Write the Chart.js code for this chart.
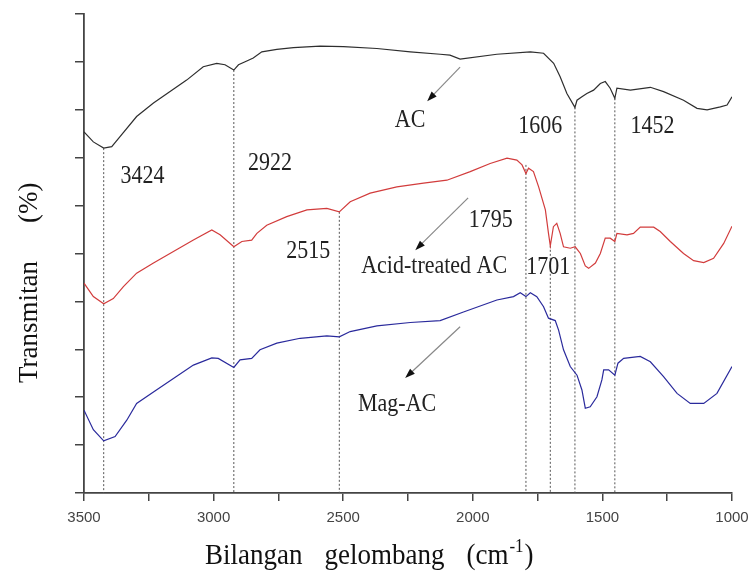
<!DOCTYPE html>
<html><head><meta charset="utf-8">
<script src="https://cdn.jsdelivr.net/npm/chart.js@4/dist/chart.umd.min.js"></script>
<style>html,body{margin:0;padding:0;background:#fff;}</style>
</head><body>
<canvas id="c" width="753" height="574"></canvas>
<script>
// ---- data (wavenumber cm-1, transmittance in arbitrary % units) ----
const wnAC = [3500,3464,3424,3393,3361,3297,3232,3168,3104,3040,2988,2956,2922,2904,2872,2847,2814,2756,2692,2589,2499,2370,2241,2126,2088,2049,1907,1778,1727,1688,1663,1637,1606,1598,1579,1560,1534,1508,1489,1470,1452,1444,1392,1315,1264,1187,1135,1096,1045,1019,1000];
const tAC  = [75.4,73.3,72.0,72.3,74.4,78.6,81.4,83.8,86.2,89.0,89.7,89.4,88.3,89.4,90.2,90.8,92.1,92.6,93.0,93.3,93.2,92.8,92.1,91.6,91.4,90.6,91.6,92.1,91.8,89.7,86.9,83.4,80.5,82.0,82.7,83.4,84.1,85.5,85.9,84.5,82.4,84.5,84.1,84.7,83.8,82.0,80.3,80.0,80.6,81.0,82.7];

const wnAcid = [3500,3464,3424,3387,3348,3297,3232,3155,3078,3007,2975,2922,2891,2853,2833,2795,2718,2640,2563,2515,2473,2396,2293,2190,2100,2010,1933,1868,1830,1810,1795,1785,1766,1746,1720,1708,1701,1689,1676,1663,1650,1624,1605,1585,1566,1553,1527,1508,1489,1470,1452,1444,1405,1380,1354,1302,1277,1238,1187,1148,1109,1071,1032,1000];
const tAcid  = [43.8,41.0,39.5,40.6,43.1,45.9,48.0,50.4,52.8,54.9,53.9,51.4,52.5,52.8,54.2,55.9,57.7,59.1,59.4,58.7,60.8,62.6,63.9,64.7,65.3,67.1,68.8,69.9,69.5,68.5,66.7,67.8,67.1,63.9,59.1,54.2,51.6,55.6,56.3,54.2,51.4,51.1,51.4,50.0,47.4,46.9,48.0,50.0,53.2,53.2,52.5,54.2,53.9,54.2,55.5,55.5,54.6,52.5,50.0,48.5,48.1,49.0,52.1,55.7];

const wnMag = [3500,3464,3424,3380,3335,3297,3232,3155,3078,3007,2982,2922,2898,2853,2821,2756,2666,2563,2515,2473,2370,2241,2126,2036,1907,1843,1817,1795,1778,1753,1727,1708,1682,1669,1650,1624,1598,1579,1566,1547,1521,1502,1495,1476,1452,1440,1418,1354,1315,1264,1212,1161,1109,1058,1000];
const tMag  = [17.3,13.2,10.9,11.8,15.2,18.7,21.1,23.9,26.7,28.2,28.1,26.2,27.8,28.1,29.9,31.3,32.3,32.8,32.6,33.7,34.9,35.6,36.0,37.8,40.3,41.0,41.8,41.0,41.8,41.0,38.9,36.5,36.0,34.0,29.9,26.4,24.6,21.5,17.7,18.0,20.1,23.6,25.7,25.7,24.6,27.1,28.1,28.5,27.4,24.3,20.8,18.7,18.7,20.8,26.4];

const peakWn  = [3424,2922,2515,1795,1701,1606,1452];
const peakTop = [72.0,88.3,58.7,68.5,51.6,80.5,82.4];

const xTickLabels = [3500,3000,2500,2000,1500,1000];

const noteText = ['3424','2922','AC','1606','1452','1795','Acid-treated AC','2515','1701','Mag-AC'];
const noteWn   = [3274,2782,2242,1740,1307,1931,2149,2635,1709,2292];
const noteT    = [66.1,68.9,77.7,76.5,76.5,57.0,47.4,50.5,47.2,18.6];

const arrowFromWn = [2049,2018,2049];
const arrowFromT  = [88.9,61.6,34.7];
const arrowToWn   = [2176,2222,2261];
const arrowToT    = [81.8,50.7,24.0];

const xTitleWords = ['Bilangan', 'gelombang', '(cm'];
const xTitleSup = '-1';
const xTitleEnd = ')';
const yTitleWords = ['Transmitan', '(%)'];

// ---- build datasets ----
const pts = (xs, ys) => xs.map((x, i) => ({x: x, y: ys[i]}));
const datasets = [
  {label:'AC', data: pts(wnAC, tAC), borderColor:'#2e2e2e', borderWidth:1.2, order:0},
  {label:'Acid-treated AC', data: pts(wnAcid, tAcid), borderColor:'#d23c3c', borderWidth:1.2, order:0},
  {label:'Mag-AC', data: pts(wnMag, tMag), borderColor:'#2a2a9c', borderWidth:1.2, order:0}
];
peakWn.forEach((w, i) => {
  datasets.push({label:'p'+w, data:[{x:w, y:peakTop[i]},{x:w, y:0}], borderColor:'#555', borderWidth:1, borderDash:[2,2], order:1});
});

const SERIF = "'Liberation Serif', 'Times New Roman', serif";

const annot = {
  id:'annot',
  afterDraw(chart){
    const ctx = chart.ctx, xs = chart.scales.x, ys = chart.scales.y;
    ctx.save();
    // arrows
    for (let i = 0; i < arrowFromWn.length; i++){
      const x1 = xs.getPixelForValue(arrowFromWn[i]), y1 = ys.getPixelForValue(arrowFromT[i]);
      const x2 = xs.getPixelForValue(arrowToWn[i]), y2 = ys.getPixelForValue(arrowToT[i]);
      const ang = Math.atan2(y2 - y1, x2 - x1);
      ctx.strokeStyle = '#888'; ctx.lineWidth = 1.2;
      ctx.beginPath(); ctx.moveTo(x1, y1); ctx.lineTo(x2 - 6*Math.cos(ang), y2 - 6*Math.sin(ang)); ctx.stroke();
      ctx.fillStyle = '#111';
      ctx.beginPath();
      ctx.moveTo(x2, y2);
      ctx.lineTo(x2 - 10*Math.cos(ang) + 3.5*Math.sin(ang), y2 - 10*Math.sin(ang) - 3.5*Math.cos(ang));
      ctx.lineTo(x2 - 10*Math.cos(ang) - 3.5*Math.sin(ang), y2 - 10*Math.sin(ang) + 3.5*Math.cos(ang));
      ctx.closePath(); ctx.fill();
    }
    // notes (slightly stretched vertically like the reference)
    ctx.fillStyle = '#222';
    ctx.font = "22px " + SERIF;
    ctx.textAlign = 'center'; ctx.textBaseline = 'middle';
    noteText.forEach((t, i) => {
      const px = xs.getPixelForValue(noteWn[i]), py = ys.getPixelForValue(noteT[i]);
      ctx.save(); ctx.translate(px, py); ctx.scale(1, 1.15); ctx.fillText(t, 0, 0); ctx.restore();
    });
    // x title with superscript
    ctx.fillStyle = '#111';
    ctx.textAlign = 'left'; ctx.textBaseline = 'alphabetic';
    const fMain = "27px " + SERIF;
    const fSup = "17px " + SERIF;
    const gap = 22;
    let sx = 205;
    const by = 564;
    ctx.save();
    ctx.translate(0, by); ctx.scale(1, 1.08);
    ctx.font = fMain;
    xTitleWords.forEach((w, i) => {
      ctx.fillText(w, sx, 0);
      sx += ctx.measureText(w).width + (i < xTitleWords.length - 1 ? gap : 0);
    });
    ctx.font = fSup; ctx.fillText(xTitleSup, sx + 1, -11); sx += ctx.measureText(xTitleSup).width + 2;
    ctx.font = fMain; ctx.fillText(xTitleEnd, sx, 0);
    ctx.restore();
    // y title
    ctx.save();
    ctx.translate(30, 383); ctx.rotate(-Math.PI/2);
    ctx.textAlign = 'left'; ctx.textBaseline = 'middle';
    ctx.font = fMain;
    const wT = ctx.measureText(yTitleWords[0]).width;
    ctx.fillText(yTitleWords[0], 0, 0);
    ctx.fillText(yTitleWords[1], wT + 38, 0);
    ctx.restore();
    ctx.restore();
  }
};

new Chart(document.getElementById('c'), {
  type:'line',
  data:{datasets: datasets},
  options:{
    responsive:false, animation:false,
    layout:{padding:{top:14, right:21, left:0, bottom:0}},
    elements:{point:{radius:0}, line:{tension:0, fill:false}},
    plugins:{legend:{display:false}, tooltip:{enabled:false}, title:{display:false}},
    scales:{
      x:{type:'linear', reverse:true, min:1000, max:3500,
        afterFit(s){ s.height = 81; },
        afterBuildTicks(s){ const t=[]; for(let v=1000; v<=3500; v+=250) t.push({value:v}); s.ticks = t; },
        ticks:{autoSkip:false, maxRotation:0, padding:8, color:'#444',
          font:{family:"'Liberation Sans', Arial, sans-serif", size:15},
          callback:(v)=> xTickLabels.includes(v) ? String(v) : ''},
        grid:{drawOnChartArea:false, drawTicks:true, tickLength:8, color:'#444', lineWidth:1.5},
        border:{display:true, color:'#444', width:1.8}
      },
      y:{type:'linear', min:0, max:100,
        afterFit(s){ s.width = 84; },
        ticks:{stepSize:10, display:false},
        grid:{drawOnChartArea:false, drawTicks:true, tickLength:9, color:'#444', lineWidth:1.5},
        border:{display:true, color:'#444', width:1.8}
      }
    }
  },
  plugins:[annot]
});
</script>
</body></html>
